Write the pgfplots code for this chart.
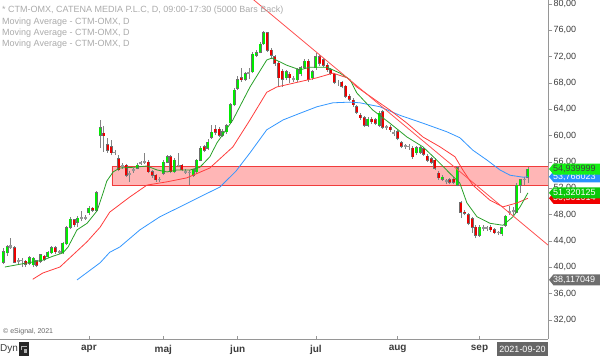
\documentclass[border=0pt]{standalone}
\usepackage{pgfplots}
\pgfplotsset{compat=1.18}
\usepackage{pgfplotstable}
\usepackage{fontspec}
\setmainfont{Liberation Sans}

\definecolor{upgC}{RGB}{0,235,0}
\definecolor{dnrC}{RGB}{235,0,0}
\definecolor{edgeC}{RGB}{110,110,110}
\definecolor{wickC}{RGB}{130,130,130}
\definecolor{neutC}{RGB}{150,150,150}
\definecolor{maG}{RGB}{40,160,40}
\definecolor{maR}{RGB}{255,60,60}
\definecolor{maB}{RGB}{50,150,255}
\definecolor{trendR}{RGB}{255,80,80}
\definecolor{rectF}{RGB}{255,182,182}
\definecolor{rectE}{RGB}{240,60,60}
\definecolor{axgray}{RGB}{150,150,150}
\definecolor{labgray}{RGB}{60,60,60}
\definecolor{leggray}{RGB}{170,170,170}
\definecolor{bG1}{RGB}{20,240,20}
\definecolor{bG2}{RGB}{10,200,10}
\definecolor{bB}{RGB}{40,145,255}
\definecolor{bR}{RGB}{240,0,0}
\definecolor{bGr}{RGB}{110,110,110}

% i = trading day index (0 = 1 Apr 2021)
% up (green) candles
\pgfplotstableread{
i o h l c
-23 40.8 43.0 40.5 42.4
-22 42.2 43.4 41.8 43.1
-16 40.6 41.8 40.3 41.5
-15 40.4 41.6 40.0 41.4
-13 40.9 42.1 40.6 41.9
-11 41.6 42.5 41.4 42.3
-10 42.2 43.3 42.0 43.0
-7 42.2 43.9 42.0 43.7
-6 43.6 46.3 43.4 46.0
-5 46.1 47.6 45.9 47.3
-3 46.9 47.8 46.1 47.5
0 48.3 49.3 48.0 49.0
2 48.7 51.6 48.6 51.3
3 60.1 62.4 58.1 61.2
13 55.1 55.8 54.9 55.5
20 54.3 56.3 54.0 56.0
21 56.0 57.0 55.8 56.8
23 54.5 56.6 54.3 56.3
28 54.0 55.0 53.8 54.8
29 54.5 56.5 54.2 56.3
30 56.3 58.5 56.1 58.1
32 58.1 59.5 57.8 59.0
33 59.8 61.6 59.5 60.5
36 60.1 61.0 59.8 60.6
37 60.6 61.8 60.3 61.5
38 62.0 65.0 61.8 64.7
39 64.7 67.2 64.5 66.9
40 67.2 69.0 67.0 68.5
42 68.6 69.7 68.3 69.4
44 69.7 72.7 69.5 72.4
45 72.2 73.0 71.9 72.6
46 72.7 74.2 72.5 73.9
47 74.0 75.9 73.8 75.6
53 68.8 70.0 68.4 69.7
56 68.5 70.3 68.2 70.0
57 69.4 70.6 69.0 70.3
58 70.4 71.6 70.1 71.3
60 68.8 70.0 68.5 69.7
61 70.3 72.5 70.0 72.0
75 61.6 62.8 61.3 62.5
78 61.6 63.7 61.3 63.4
88 57.4 58.5 57.0 58.2
89 57.5 58.5 57.2 58.2
95 53.4 54.0 53.1 53.7
99 52.5 55.4 52.3 55.1
105 44.9 46.4 44.6 46.1
111 45.1 46.2 44.8 46.0
112 46.4 48.0 46.2 47.8
115 48.4 52.8 48.2 52.5
116 52.5 53.5 51.3 53.3
118 53.7 55.2 52.8 54.94
}\upC
% down (red) candles
\pgfplotstableread{
i o h l c
-20 43.0 43.2 40.6 40.8
-17 40.9 41.2 40.1 40.5
-14 41.0 41.2 40.0 40.3
-12 41.7 41.9 40.9 41.2
-9 43.0 43.2 42.1 42.4
-4 47.2 47.4 46.2 46.5
1 49.0 49.2 48.4 48.7
4 60.4 61.5 57.6 60.0
5 58.6 59.6 57.4 57.8
6 58.3 59.4 57.0 57.4
8 56.5 57.0 54.6 54.8
10 55.5 55.7 53.8 54.0
16 56.0 56.3 54.3 54.5
17 54.5 54.8 53.6 54.0
18 54.0 54.2 53.0 53.3
22 56.8 57.0 54.3 54.5
25 55.5 55.7 54.6 54.8
31 58.3 58.6 57.5 57.8
34 61.0 61.6 60.1 60.5
35 61.0 61.3 59.8 60.1
41 68.8 70.3 68.2 68.5
48 75.6 75.8 72.7 73.0
49 73.0 73.3 71.6 72.2
50 72.0 72.3 70.6 71.0
51 71.0 71.3 67.5 68.8
52 69.8 70.2 67.4 68.6
54 69.3 69.6 68.0 68.8
59 71.3 71.6 68.2 68.5
62 72.0 72.3 70.6 71.0
63 71.5 71.8 70.4 70.7
64 70.7 71.0 69.7 70.0
65 70.0 70.3 69.2 69.5
66 69.3 69.5 67.8 68.1
68 68.1 68.3 67.2 67.5
69 67.5 67.7 65.7 66.0
70 66.0 66.3 65.2 65.5
71 65.4 65.7 64.4 64.7
72 64.4 64.7 63.3 63.6
73 63.1 63.4 62.4 62.7
74 62.7 63.0 61.3 61.6
76 62.5 62.8 61.8 62.1
77 62.4 62.7 61.6 61.9
79 63.6 63.9 61.0 61.3
81 61.3 61.6 60.6 60.9
83 60.6 60.9 59.3 59.6
84 58.9 59.2 58.1 58.4
87 58.1 58.4 56.5 56.8
90 58.0 58.3 56.9 57.2
91 56.9 57.2 56.0 56.3
92 56.5 56.8 55.7 56.0
93 56.3 56.6 54.8 55.1
94 54.3 54.6 53.3 53.6
97 53.3 53.6 52.6 52.9
98 53.4 53.7 52.6 52.9
100 49.8 50.1 47.5 48.4
101 48.4 48.7 47.9 48.2
102 48.0 48.3 46.4 46.7
103 47.4 47.7 45.2 46.1
104 46.1 46.4 44.4 44.9
108 46.1 46.4 45.4 45.7
109 45.7 46.0 45.0 45.3
}\dnC
% neutral (small body) candles
\pgfplotstableread{
i o h l c
-21 43.1 44.5 42.8 43.25
-19 40.9 41.4 40.5 41.0
-18 41.0 41.4 40.0 41.1
-8 42.3 42.6 42.0 42.4
-2 47.5 48.5 47.0 47.6
-1 47.5 47.9 47.2 47.5
7 57.5 57.8 57.1 57.4
9 55.4 55.9 55.0 55.5
11 54.2 54.7 53.0 54.3
12 54.7 55.1 54.4 54.8
14 55.8 56.2 55.5 55.9
15 56.0 57.4 55.7 56.1
19 53.3 53.7 53.0 53.4
24 55.6 57.4 55.2 55.5
26 54.5 54.9 54.2 54.6
27 54.5 54.8 52.5 54.4
43 69.4 70.3 68.6 69.5
55 68.6 69.0 68.1 68.7
67 68.2 68.5 67.6 68.0
80 61.3 61.6 60.9 61.35
82 60.4 60.8 60.0 60.5
85 58.4 58.8 58.0 58.5
86 58.4 58.7 57.9 58.3
96 53.0 53.4 52.6 53.1
106 46.0 46.4 45.6 46.1
107 46.0 46.3 45.6 46.05
110 45.3 45.6 44.9 45.35
113 48.4 49.4 48.0 48.5
114 48.5 49.2 48.0 48.6
117 53.3 53.7 52.5 53.4
}\neC

\newcommand{\badge}[4]{%
  \fill[#2] ([xshift=1pt]#1) -- ++(4.5,5.5) -- ++(50,0) -- ++(0,-11) -- ++(-50,0) -- cycle;
  \node[anchor=west, inner sep=0pt, text=#3, font=\fontsize{9}{10}\selectfont] at ([xshift=5pt]#1) {#4};
}

\begin{document}
\begin{tikzpicture}[x=1pt,y=1pt]
\useasboundingbox (0,0) rectangle (600,356);
\begin{axis}[
  at={(0pt,17pt)}, anchor=south west,
  scale only axis, width=548pt, height=339pt,
  xmin=-23.9, xmax=123.4, ymin=29.13, ymax=80.61,
  axis x line*=bottom, axis y line*=right,
  axis line style={draw=axgray, line width=0.8pt},
  tick align=outside, major tick length=4pt,
  ytick={32,36,...,80},
  ytick style={draw=axgray, line width=0.6pt},
  yticklabel style={font=\fontsize{9}{10}\selectfont, text=labgray, xshift=-2pt,
    /pgf/number format/.cd, fixed, fixed zerofill, precision=2, use comma, assume math mode=true},
  xtick={0,20,40,61,83,105},
  xticklabels={apr,maj,jun,jul,aug,sep},
  xtick style={draw=axgray, line width=0.6pt, yshift=3pt},
  xticklabel style={font=\bfseries\fontsize{10}{11}\selectfont, text=labgray, yshift=1pt},
  candle/.style={line cap=butt},
]
% zone
\addplot[fill=rectF, draw=rectE, line width=0.8pt] coordinates {(6.2,52.5) (6.2,55.4) (130,55.4) (130,52.5) (6.2,52.5)};

% wicks
\addplot[draw=wickC, line width=0.7pt, candle, quiver={u=0, v=\thisrow{h}-\thisrow{l}}] table[x=i, y=l] {\upC};
\addplot[draw=wickC, line width=0.7pt, candle, quiver={u=0, v=\thisrow{h}-\thisrow{l}}] table[x=i, y=l] {\dnC};
\addplot[draw=wickC, line width=0.7pt, candle, quiver={u=0, v=\thisrow{h}-\thisrow{l}}] table[x=i, y=l] {\neC};
% up bodies
\addplot[draw=edgeC, line width=3pt, candle, quiver={u=0, v=\thisrow{c}-\thisrow{o}+0.16}] table[x=i, y expr=\thisrow{o}-0.08] {\upC};
\addplot[draw=upgC, line width=2pt, candle, quiver={u=0, v=\thisrow{c}-\thisrow{o}}] table[x=i, y=o] {\upC};
% down bodies
\addplot[draw=edgeC, line width=3pt, candle, quiver={u=0, v=\thisrow{c}-\thisrow{o}-0.16}] table[x=i, y expr=\thisrow{o}+0.08] {\dnC};
\addplot[draw=dnrC, line width=2pt, candle, quiver={u=0, v=\thisrow{c}-\thisrow{o}}] table[x=i, y=o] {\dnC};
% neutral bodies
\addplot[draw=neutC, line width=3pt, candle, quiver={u=0, v=\thisrow{c}-\thisrow{o}+0.2}] table[x=i, y expr=\thisrow{o}-0.1] {\neC};

% moving averages
\addplot[maB, line width=0.8pt] coordinates {
(-3.2,38.1) (3.0,40.7) (5.6,42.3) (8.3,43.1) (13.7,45.7) (19.1,47.7) (24.5,49.2) (29.8,50.7) (35.2,52.2) (39.5,54.6) (43.3,57.4) (47.8,60.9) (52.2,62.4) (56.7,63.4) (61.3,64.4) (65.6,65.0) (70.2,65.1) (72.8,65.0) (78.2,64.4) (83.6,63.1) (89.8,61.9) (96.2,60.6) (99.7,59.7) (103.2,57.8) (107.0,56.3) (110.5,54.8) (113.2,54.0) (116.7,53.7) (118,53.77)};
\addplot[maR, line width=0.8pt] coordinates {
(-15.1,38.2) (-12.4,39.15) (-7.8,40.06) (-4.3,41.9) (-0.5,43.9) (3.0,46.1) (5.6,48.4) (11.0,50.7) (15.6,52.5) (21.0,53.0) (26.3,53.6) (32.5,55.1) (38.7,58.3) (43.3,62.4) (47.8,66.6) (50.5,67.4) (56.7,68.2) (61.3,68.8) (65.6,69.5) (69.4,68.8) (72.0,67.4) (76.3,65.7) (80.9,63.9) (85.5,61.9) (89.8,59.8) (94.4,58.3) (98.4,56.8) (100.5,54.8) (103.2,52.5) (107.8,50.2) (111.3,49.2) (115.1,49.8) (118,50.50)};
\addplot[maG, line width=0.8pt] coordinates {
(-22.6,40.06) (-16.7,40.67) (-12.4,41.1) (-9.7,41.7) (-7.0,42.2) (-5.6,43.1) (-3.2,45.7) (-0.5,46.7) (2.2,48.6) (3.8,51.3) (4.8,53.1) (6.5,54.5) (8.3,55.1) (11.8,55.2) (15.6,55.4) (18.3,54.8) (21.0,54.5) (23.7,54.8) (27.2,54.8) (29.8,55.2) (32.5,56.8) (34.4,58.9) (38.7,62.4) (43.3,67.4) (47.8,71.5) (49.2,71.8) (53.2,70.7) (56.7,70.0) (59.4,70.4) (64.0,70.4) (67.5,69.5) (70.2,68.5) (72.0,66.5) (76.3,63.9) (80.9,61.9) (85.5,59.8) (89.8,58.3) (93.5,56.3) (97.0,54.3) (99.7,52.8) (101.6,49.8) (104.3,47.7) (107.8,46.7) (111.3,46.4) (114.0,47.7) (115.9,49.2) (118,51.32)};
% trend line
\addplot[trendR, line width=0.8pt] coordinates {(43.5,81.0) (123.4,43.4)};

\coordinate (bA) at (axis cs:123.4,54.939999);
\coordinate (bB) at (axis cs:123.4,53.768023);
\coordinate (bC) at (axis cs:123.4,51.320125);
\coordinate (bD) at (axis cs:123.4,50.501014);
\coordinate (bE) at (axis cs:123.4,38.117049);
\end{axis}

\badge{bE}{bGr}{white}{38,117049}
\badge{bB}{bB}{white}{53,768023}
\badge{bA}{bG1}{black!75}{54,939999}
\badge{bD}{bR}{white}{50,501014}
\badge{bC}{bG2}{white}{51,320125}

% legend texts
\begin{scope}[every node/.style={anchor=base west, inner sep=0pt, text=leggray, font=\fontsize{9}{10}\selectfont}]
\node at (2,343.7) {* CTM-OMX, CATENA MEDIA P.L.C, D, 09:00-17:30 (5000 Bars Back)};
\node at (2,331.7) {Moving Average - CTM-OMX, D};
\node at (2,320.7) {Moving Average - CTM-OMX, D};
\node at (2,309.7) {Moving Average - CTM-OMX, D};
\end{scope}

\node[anchor=west, inner sep=0pt, text=black!60, font=\fontsize{7}{8}\selectfont] at (3,24) {\textcopyright{} eSignal, 2021};

% bottom left
\node[anchor=base west, inner sep=0pt, text=labgray, font=\fontsize{10}{11}\selectfont] at (0,4) {Dyn};
\fill[black!85] (19,0) rectangle (29,14);
\draw[white!70!black, line width=0.8pt] (21.5,6) -- (21.5,10) -- (26.5,10);
\fill[white!70!black] (23.5,3) rectangle (27,7);

% date badge
\fill[black!60] (497,0) rectangle (548,14);
\node[anchor=center, inner sep=0pt, text=white, font=\fontsize{9}{10}\selectfont] at (522.5,7) {2021-09-20};
\end{tikzpicture}
\end{document}
